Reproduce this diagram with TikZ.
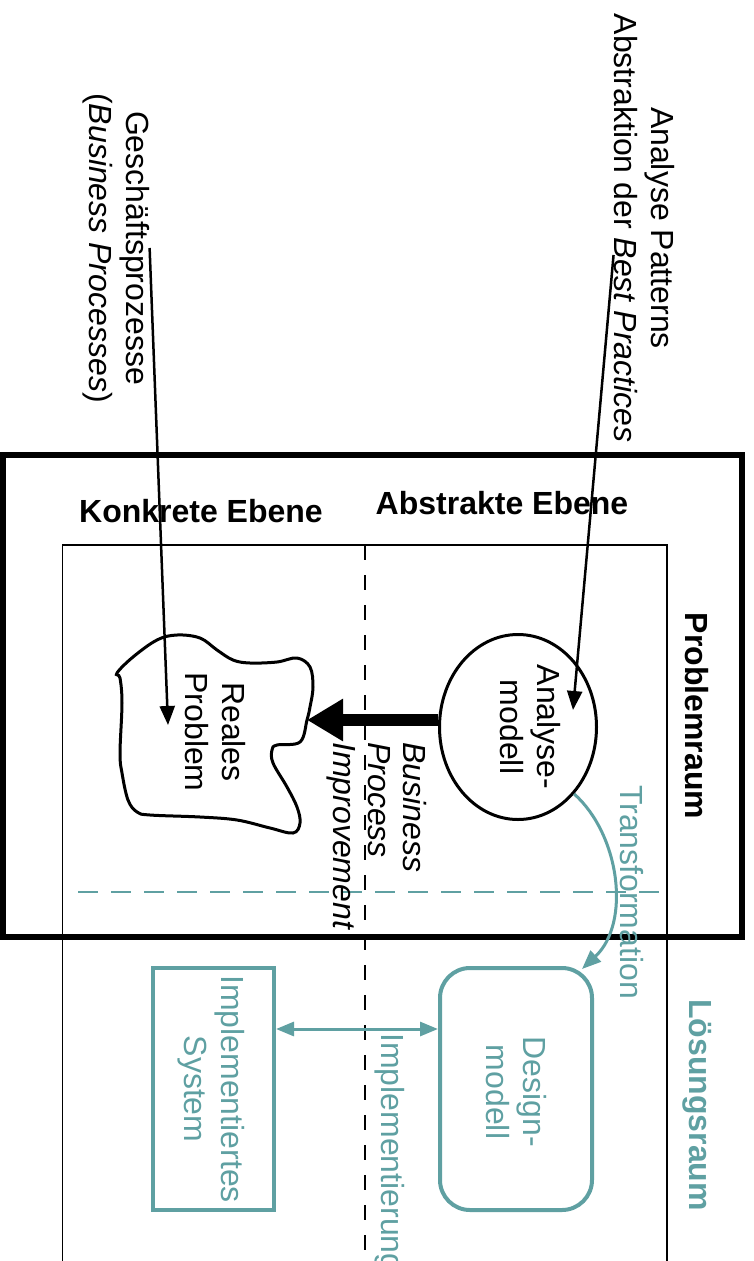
\documentclass[tikz,border=0pt]{standalone}
\usepackage{fontspec}
\setmainfont{Liberation Sans}
\usetikzlibrary{arrows.meta,shapes.geometric}
\definecolor{loesung}{RGB}{95,160,162}

\begin{document}
\begin{tikzpicture}[x=1pt,y=-1pt,
		schrift/.style={font=\fontsize{32}{37}\selectfont},
		quer/.style={schrift,rotate=-90,align=center,inner sep=0pt},
		ebene/.style={font=\bfseries\fontsize{32}{37}\selectfont,inner sep=0pt},
		zeiger/.style={line width=2.5pt,-{Triangle[length=19pt,width=15pt]}},
		tealbox/.style={draw=loesung,line width=4pt,minimum height=242pt}]
		\useasboundingbox (0,0) rectangle (753,1261);
		\clip (0,0) rectangle (753,1261);

		% Rahmen
		\draw[line width=6.5pt] (2.5,455) rectangle (742,937);
		\draw[line width=1.3pt] (62.5,1270) -- (62.5,545) -- (667,545) -- (667,1270);
		\draw[line width=1.3pt,dash pattern=on 15pt off 15pt] (365,545) -- (365,1270);
		\draw[loesung,line width=1.3pt,dash pattern=on 20pt off 13pt] (78,892) -- (667,892);

		\node[ebene] (konkret) at (201,511) {Konkrete Ebene};
		\node[ebene] (abstrakt) at (502,503) {Abstrakte Ebene};
		\node[quer,font=\bfseries\fontsize{32}{37}\selectfont] (problemraum) at (697,716) {Problemraum};
		\node[quer,loesung,font=\bfseries\fontsize{32}{37}\selectfont] (loesungsraum) at (697,1105) {Lösungsraum};

		% Wolke
		\draw[line width=3pt] plot[smooth cycle,tension=0.6] coordinates {
			(117,673) (133,657) (157,640) (177,635) (200,638) (217,650) (233,660)
			(250,663) (277,662) (297,658) (310,667) (313,687) (310,707) (307,720)
			(300,742) (277,745) (272,750) (273,763) (287,787) (297,807) (300,823)
			(293,833) (270,828) (237,820) (200,817) (150,815) (137,812) (128,800)
			(122,773) (120,753) (122,703) (120,678)};
		\coordinate (kerbe) at (307,720);
		\coordinate (realesziel) at (168,725);
		\node[quer] (reales) at (215,732) {Reales\\Problem};

		\node[draw,ellipse,line width=3pt,minimum width=157pt,minimum height=185pt] (analyse) at (518,727) {};
		\node[quer] (analysetxt) at (530,727) {Analyse-\\modell};
		\coordinate (analyseziel) at (573,710);

		\node[quer] (geschaeft) at (116,248) {Geschäftsprozesse\\(\textit{Business Processes})};
		\node[quer] (patterns) at (644,228) {Analyse Patterns\\Abstraktion der \textit{Best Practices}};

		\draw[zeiger] (geschaeft.north) -- (realesziel);
		\draw[zeiger] ([yshift=-27pt]patterns.south) -- (analyseziel);

		\draw[line width=12pt,-{Triangle[length=36pt,width=40pt]}] (analyse.west |- kerbe) -- (kerbe);
		\node[quer,anchor=west,align=left,font=\itshape\fontsize{32}{35}\selectfont] (bpi) at (377,742) {Business\\Process\\Improvement};

		% Loesungsraum
		\node[tealbox,minimum width=121pt] (impl) at (213.5,1089) {};
		\node[quer,loesung] (impltxt) at (211,1089) {Implementiertes\\System};
		\node[tealbox,rounded corners=30pt,minimum width=152pt] (design) at (516,1089) {};
		\node[quer,loesung] (designtxt) at (516,1092) {Design-\\modell};

		\coordinate (implzeile) at (365,1029);
		\draw[loesung,line width=3pt,{Triangle[length=18pt,width=14pt]}-{Triangle[length=18pt,width=14pt]}]
			(impl.east |- implzeile) -- (design.west |- implzeile);
		\node[quer,loesung,anchor=west] (implementierung) at (390,1033) {Implementierung};

		\draw[loesung,line width=3pt,-{Triangle[length=19pt,width=15pt]}]
			(analyse.-50) .. controls (620,835) and (631,923) .. ([xshift=-12pt,yshift=-3pt]design.north east);
		\node[quer,loesung] (trafo) at (632,892) {Transformation};
	\end{tikzpicture}
\end{document}
